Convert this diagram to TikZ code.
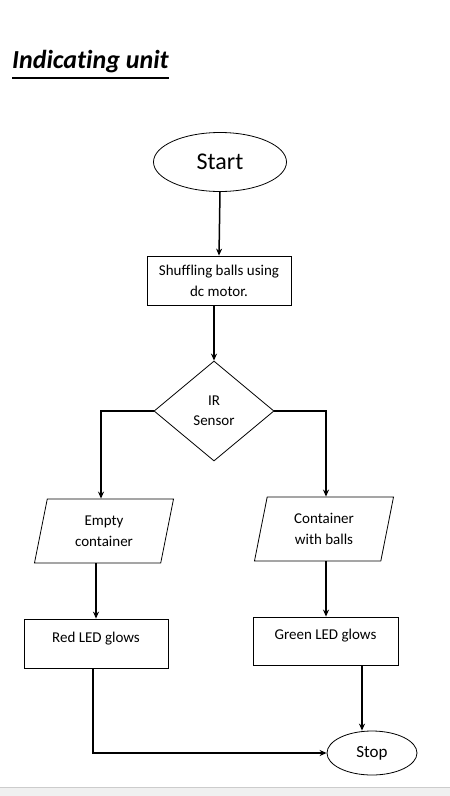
\documentclass[tikz,border=0pt]{standalone}
\usepackage{fontspec}
\setmainfont{Carlito}[Ligatures=NoCommon]
\usetikzlibrary{shapes.geometric}
\usetikzlibrary{arrows.meta}
\tikzset{box/.style={draw,line width=0.8pt,minimum width=144pt,minimum height=49pt,align=center,inner sep=0pt,font=\fontsize{15}{21}\selectfont},
 term/.style={draw,ellipse,line width=0.8pt,inner sep=0pt},
 io/.style={draw,trapezium,trapezium left angle=78,trapezium right angle=102,trapezium stretches=true,line width=0.8pt,minimum width=140pt,minimum height=64pt,inner sep=0pt,align=center,font=\fontsize{15}{21}\selectfont},
 decide/.style={draw,diamond,line width=0.8pt,minimum width=120pt,minimum height=100pt,inner sep=0pt,align=center,font=\fontsize{15}{20}\selectfont},
 flow/.style={draw,line width=1.5pt,-{Stealth[length=7pt,width=6pt]}},
 }

\begin{document}
\begin{tikzpicture}[x=1pt,y=-1pt]
    \useasboundingbox (0,0) rectangle (450,796);
    \node[anchor=west,inner sep=0pt,font=\fontsize{26}{30}\selectfont\bfseries\itshape] (title) at (12,62) {Indicating unit};
    \draw[line width=2pt] ([yshift=-4pt]title.south west) -- ([yshift=-4pt]title.south east);
    \node[term,minimum width=133pt,minimum height=59pt,font=\fontsize{24}{28}\selectfont] (start) at (220,162) {Start};
    \node[box] (shuffle) at (219,280.5) {Shuffling balls using\\dc motor.};
    \node[decide] (ir) at (214,411) {IR\\Sensor};
    \node[io] (empty) at (104,531) {Empty\\container};
    \node[io] (balls) at (324,529) {Container\\with balls};
    \node[box,text depth=13pt] (red) at (96,643.5) {Red LED glows};
    \node[box,minimum width=145pt,minimum height=48pt,text depth=13pt] (green) at (325.5,641) {Green LED glows};
    \node[term,minimum width=90pt,minimum height=44pt,font=\fontsize{17}{20}\selectfont] (stop) at (372,753) {Stop};
    \draw[flow] (start.south) -- (shuffle.north);
    \draw[flow] (shuffle.south -| ir.north) -- (ir.north);
    \draw[flow] (ir.west) -| ([xshift=-3pt]empty.north);
    \draw[flow] (ir.east) -| ([xshift=2pt]balls.north);
    \draw[flow] (empty.south -| red.north) -- (red.north);
    \draw[flow] ([xshift=2pt]balls.south) -- ([xshift=2pt]balls.south |- green.north);
    \draw[flow] ([xshift=-3pt]red.south) |- (stop.west);
    \draw[flow] ([xshift=36.5pt]green.south) -- ([xshift=36.5pt]green.south |- stop.north);
    \fill[black!6] (0,787) rectangle (450,796);
    \draw[black!20] (0,787.5) -- (450,787.5);
\end{tikzpicture}
\end{document}
